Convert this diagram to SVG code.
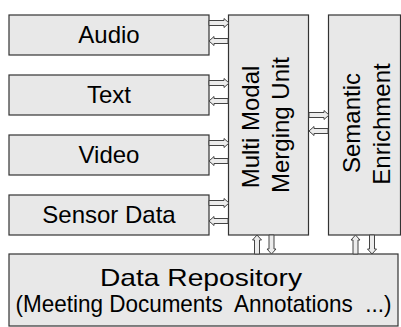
<svg xmlns="http://www.w3.org/2000/svg" width="401" height="327" viewBox="0 0 401 327">
<style>
.box{fill:#e8e8e8;stroke:#333;stroke-width:1.2}
.lbl{font-family:"Liberation Sans",Arial,sans-serif;font-size:24px;fill:#000;text-anchor:middle}
.arr{fill:#ececec;stroke:#444;stroke-width:1}
.pre{white-space:pre}
</style>
<rect width="401" height="327" fill="#fff"/>
<g id="audio"><rect class="box" x="9" y="15" width="200" height="40"/><text class="lbl" x="109" y="42.5">Audio</text></g>
<g id="text"><rect class="box" x="9" y="75" width="200" height="40"/><text class="lbl" x="109" y="102.5">Text</text></g>
<g id="video"><rect class="box" x="9" y="135" width="200" height="40"/><text class="lbl" x="109" y="162.5">Video</text></g>
<g id="sensor"><rect class="box" x="9" y="195" width="200" height="40"/><text class="lbl" x="109" y="222.5">Sensor Data</text></g>
<g id="merging"><rect class="box" x="228.5" y="15" width="80" height="220"/>
<text class="lbl" transform="translate(259,127) rotate(-90)">Multi Modal</text>
<text class="lbl" transform="translate(289,125) rotate(-90)">Merging Unit</text></g>
<g id="semantic"><rect class="box" x="328.5" y="15" width="72" height="220"/>
<text class="lbl" transform="translate(360,123) rotate(-90)">Semantic</text>
<text class="lbl" transform="translate(390,124) rotate(-90)">Enrichment</text></g>
<g id="repository"><rect class="box" x="9" y="254" width="389" height="72"/>
<text class="lbl" x="201" y="285.5" font-size="25" textLength="202" lengthAdjust="spacingAndGlyphs">Data Repository</text>
<text class="lbl pre" x="203.5" y="311.5" font-size="21.5" textLength="376" lengthAdjust="spacingAndGlyphs" xml:space="preserve">(Meeting Documents  Annotations  ...)</text></g>
<g id="connectors">
<path class="arr" d="M209,20.5H224V18.5L229,23L224,27.5V25.5H209Z"/>
<path class="arr" d="M228,38.5H214V36.5L209,41L214,45.5V43.5H228Z"/>
<path class="arr" d="M209,80.5H224V78.5L229,83L224,87.5V85.5H209Z"/>
<path class="arr" d="M228,98.5H214V96.5L209,101L214,105.5V103.5H228Z"/>
<path class="arr" d="M209,140.5H224V138.5L229,143L224,147.5V145.5H209Z"/>
<path class="arr" d="M228,158.5H214V156.5L209,161L214,165.5V163.5H228Z"/>
<path class="arr" d="M209,200.5H224V198.5L229,203L224,207.5V205.5H209Z"/>
<path class="arr" d="M228,218.5H214V216.5L209,221L214,225.5V223.5H228Z"/>
<path class="arr" d="M309,112.5H324V110.5L329,115L324,119.5V117.5H309Z"/>
<path class="arr" d="M328,128.5H314V126.5L309,131L314,135.5V133.5H328Z"/>
<path class="arr" d="M254.5,254V240H252.5L257,235L261.5,240H259.5V254Z"/>
<path class="arr" d="M269,235V249H267L271.5,254L276,249H274V235Z"/>
<path class="arr" d="M353,254V240H351L355.5,235L360,240H358V254Z"/>
<path class="arr" d="M369.5,235V249H367.5L372,254L376.5,249H374.5V235Z"/>
</g>
</svg>
